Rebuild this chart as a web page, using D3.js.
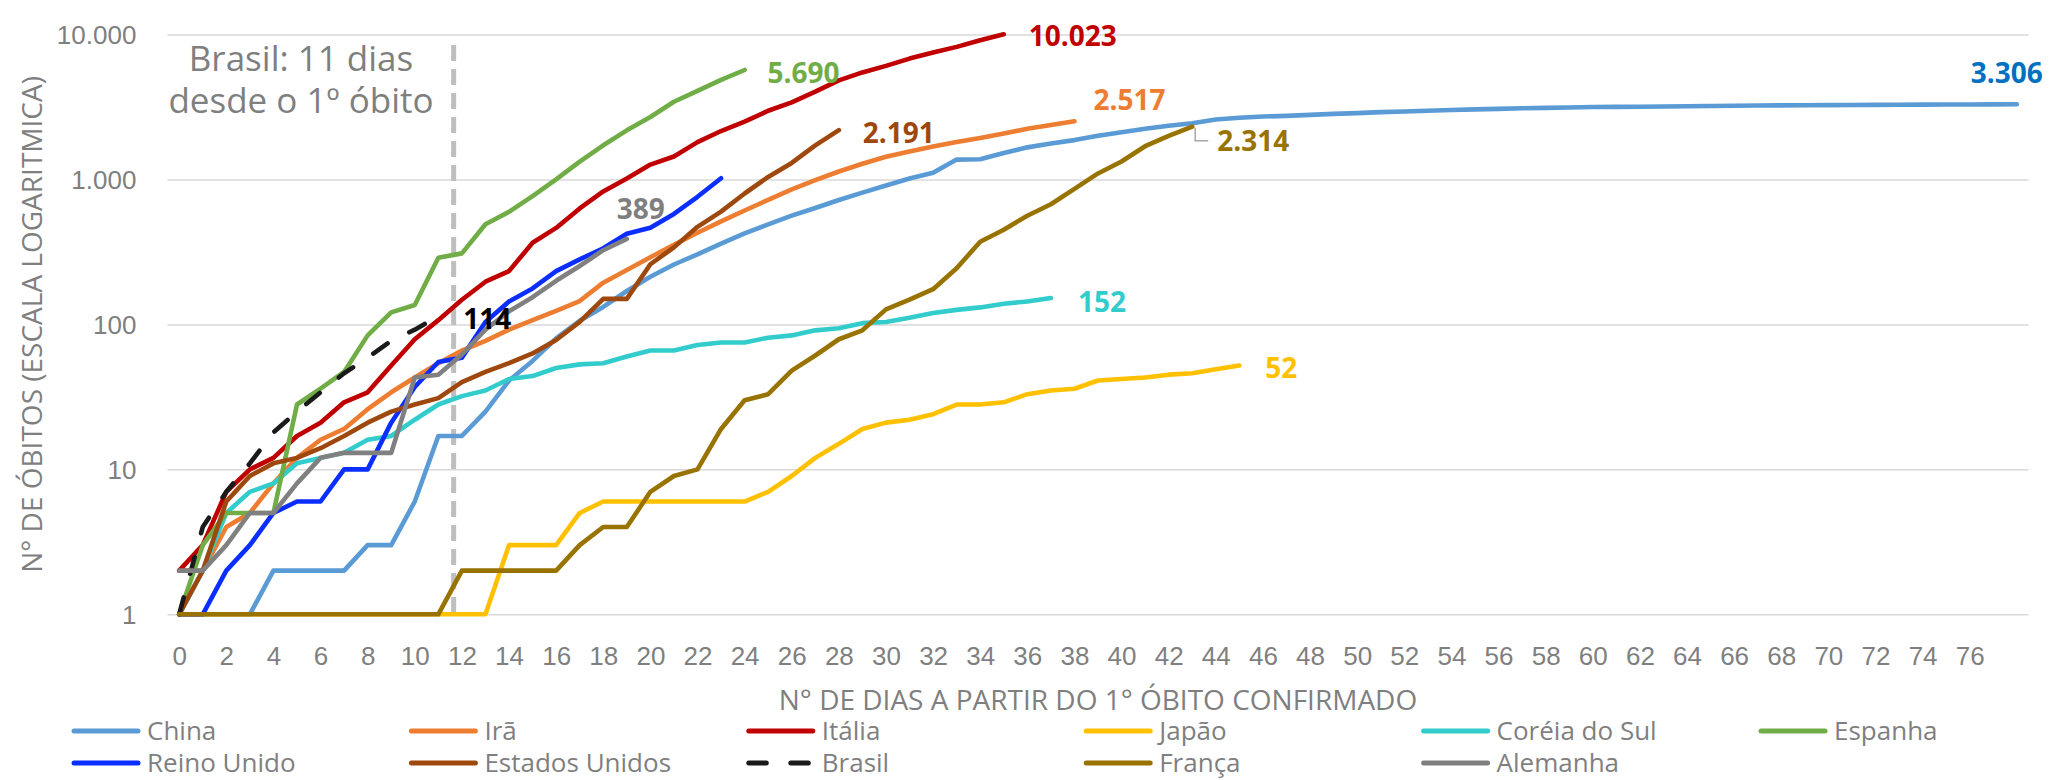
<!DOCTYPE html>
<html lang="pt-BR">
<head>
<meta charset="utf-8">
<title>Óbitos acumulados desde o 1º óbito</title>
<script src="https://cdn.jsdelivr.net/npm/d3@7"></script>
<style>
  html, body { margin: 0; padding: 0; background: #fff; }
  svg { display: block; font-family: "Open Sans", "Noto Sans", sans-serif; }
</style>
</head>
<body>
<svg id="chart" width="2054" height="780"></svg>
<script>
// óbitos acumulados, índice = nº de dias a partir do 1º óbito

const china = [1, 1, 1, 1, 2, 2, 2, 2, 3, 3, 6, 17, 17, 25, 41, 56, 80, 106, 132, 170,
  213, 259, 304, 361, 425, 490, 563, 636, 722, 811, 908, 1016, 1113, 1371, 1380, 1523,
  1665, 1770, 1868, 2004, 2118, 2236, 2345, 2442, 2592, 2663, 2715, 2744, 2788, 2835,
  2870, 2912, 2943, 2981, 3012, 3042, 3070, 3097, 3119, 3136, 3158, 3169, 3176, 3189,
  3199, 3213, 3226, 3237, 3245, 3248, 3255, 3261, 3270, 3277, 3281, 3287, 3292, 3295, 3306];

const ira = [2, 2, 4, 5, 8, 12, 16, 19, 26, 34, 43, 54, 66, 77, 92, 107, 124, 145, 194,
  237, 291, 354, 429, 514, 611, 724, 853, 988, 1135, 1284, 1433, 1556, 1685, 1812, 1934,
  2077, 2234, 2378, 2517];

const italia = [2, 3, 7, 10, 12, 17, 21, 29, 34, 52, 79, 107, 148, 197, 233, 366, 463,
  631, 827, 1016, 1266, 1441, 1809, 2158, 2503, 2978, 3405, 4032, 4825, 5476, 6077, 6820,
  7503, 8215, 9134, 10023];

const japao = [1, 1, 1, 1, 1, 1, 1, 1, 1, 1, 1, 1, 1, 1, 3, 3, 3, 5, 6, 6, 6, 6, 6, 6, 6,
  7, 9, 12, 15, 19, 21, 22, 24, 28, 28, 29, 33, 35, 36, 41, 42, 43, 45, 46, 49, 52];

const coreia = [1, 2, 5, 7, 8, 11, 12, 13, 16, 17, 22, 28, 32, 35, 42, 44, 50, 53, 54, 60,
  66, 66, 72, 75, 75, 81, 84, 91, 94, 102, 104, 111, 120, 126, 131, 139, 144, 152];

const espanha = [1, 3, 5, 5, 5, 28, 36, 47, 84, 121, 136, 288, 309, 491, 598, 767, 1002,
  1326, 1720, 2182, 2696, 3434, 4089, 4858, 5690];

const reinoUnido = [1, 1, 2, 3, 5, 6, 6, 10, 10, 21, 37, 55, 59, 104, 144, 177, 233, 281,
  335, 422, 465, 578, 759, 1019];

const eua = [1, 2, 6, 9, 11, 12, 14, 17, 21, 25, 28, 31, 40, 47, 54, 63, 78, 104, 150, 150,
  260, 340, 471, 600, 800, 1040, 1300, 1720, 2191];

const brasil = [1, 4, 7, 11, 18, 25, 34, 46, 59, 77, 92, 114];

const franca = [1, 1, 1, 1, 1, 1, 1, 1, 1, 1, 1, 1, 2, 2, 2, 2, 2, 3, 4, 4, 7, 9, 10, 19,
  30, 33, 48, 61, 79, 91, 127, 148, 175, 244, 372, 450, 562, 674, 860, 1100, 1331, 1696,
  1995, 2314];

const alemanha = [2, 2, 3, 5, 5, 8, 12, 13, 13, 13, 43, 45, 62, 92, 123, 154, 200, 253, 325, 389];

const SERIES_NAMES = ["China", "Irã", "Itália", "Japão", "Coréia do Sul", "Espanha",
  "Reino Unido", "Estados Unidos", "Brasil", "França", "Alemanha"];
const SERIES_VALUES = [china, ira, italia, japao, coreia, espanha,
  reinoUnido, eua, brasil, franca, alemanha];

const DAY_TICKS = [0, 2, 4, 6, 8, 10, 12, 14, 16, 18, 20, 22, 24, 26, 28, 30, 32, 34, 36,
  38, 40, 42, 44, 46, 48, 50, 52, 54, 56, 58, 60, 62, 64, 66, 68, 70, 72, 74, 76];
const Y_TICKS = [1, 10, 100, 1000, 10000];

// --- estilos ---
const COLORS = {
  "China": "#5B9BD5", "Irã": "#ED7D31", "Itália": "#C00000", "Japão": "#FFC000",
  "Coréia do Sul": "#33CCCC", "Espanha": "#70AD47", "Reino Unido": "#0A2EFF",
  "Estados Unidos": "#9E480E", "Brasil": "#1A1A1A", "França": "#997300", "Alemanha": "#808080"
};
const LABEL_COLORS = Object.assign({}, COLORS, { "China": "#0070C0", "Brasil": "#000000", "Alemanha": "#7F7F7F" });

// deslocamento do rótulo final em relação ao último ponto: [dx, dy, âncora]
const LABEL_OFFSETS = {
  "China": [-10, -31, "middle"],
  "Irã": [19, -21, "start"],
  "Itália": [25, 2, "start"],
  "Japão": [26, 3, "start"],
  "Coréia do Sul": [27, 4, "start"],
  "Espanha": [23, 3, "start"],
  "Reino Unido": null,
  "Estados Unidos": [24, 3, "start"],
  "Brasil": [25, 3, "start"],
  "França": [25, 15, "start"],
  "Alemanha": [-10, -30, "start"]
};

const plot = { left: 167.4, right: 2028.6, top: 34.5, bottom: 614.3 };
const GRAY = "#7F7F7F";
const MARKER_DAY = 11.65;

const fmt = d3.formatLocale({ decimal: ",", thousands: ".", grouping: [3], currency: ["R$", ""] }).format(",d");

const svg = d3.select("#chart");

const x = d3.scaleLinear().domain([-0.5, 78.5]).range([plot.left, plot.right]);
const y = d3.scaleLog().domain([1, 10000]).range([plot.bottom, plot.top]);

// eixo y + grade
const yAxis = svg.append("g")
  .attr("transform", `translate(${plot.left},0)`)
  .call(d3.axisLeft(y)
    .tickValues(Y_TICKS)
    .tickFormat(fmt)
    .tickSize(-(plot.right - plot.left))
    .tickPadding(31));
yAxis.select(".domain").remove();
yAxis.selectAll(".tick line").attr("stroke", "#D9D9D9").attr("stroke-width", 1.5);
yAxis.selectAll(".tick text")
  .attr("fill", GRAY).style("font-size", "26px").attr("dy", "0.34em");

// eixo x
const xAxis = svg.append("g")
  .attr("transform", `translate(0,${plot.bottom})`)
  .call(d3.axisBottom(x).tickValues(DAY_TICKS).tickSize(0).tickPadding(32));
xAxis.select(".domain").remove();
xAxis.selectAll(".tick text").attr("fill", GRAY).style("font-size", "26px");

// títulos dos eixos
svg.append("text")
  .attr("x", (plot.left + plot.right) / 2).attr("y", 710)
  .attr("text-anchor", "middle").attr("fill", GRAY).style("font-size", "28px")
  .text("N° DE DIAS A PARTIR DO 1° ÓBITO CONFIRMADO");

svg.append("text")
  .attr("transform", `translate(42,${(plot.top + plot.bottom) / 2}) rotate(-90)`)
  .attr("text-anchor", "middle").attr("fill", GRAY).style("font-size", "28px")
  .text("N° DE ÓBITOS (ESCALA LOGARITMICA)");

// marcador do Brasil
svg.append("line")
  .attr("x1", x(MARKER_DAY)).attr("x2", x(MARKER_DAY))
  .attr("y1", 45).attr("y2", 618)
  .attr("stroke", "#BFBFBF").attr("stroke-width", 5)
  .attr("stroke-dasharray", "16,8");

const note = svg.append("text")
  .attr("text-anchor", "middle").attr("fill", GRAY).style("font-size", "35px");
note.append("tspan").attr("x", 301).attr("y", 71).text("Brasil: 11 dias");
note.append("tspan").attr("x", 301).attr("y", 113).text("desde o 1º óbito");

// linhas
const line = d3.line().x((d, i) => x(i)).y(d => y(d));

const seriesG = svg.append("g");
SERIES_NAMES.forEach((name, k) => {
  seriesG.append("path")
    .datum(SERIES_VALUES[k])
    .attr("d", line)
    .attr("fill", "none")
    .attr("stroke", COLORS[name])
    .attr("stroke-width", 4.6)
    .attr("stroke-linejoin", "round")
    .attr("stroke-linecap", "round")
    .attr("stroke-dasharray", name === "Brasil" ? "17.5,24.5" : null);
});

// rótulos finais
const labelsG = svg.append("g").style("font-size", "28px").style("font-weight", "700");
SERIES_NAMES.forEach((name, k) => {
  const off = LABEL_OFFSETS[name];
  if (!off) return;
  const vals = SERIES_VALUES[k];
  const last = vals.length - 1;
  const px = x(last), py = y(vals[last]);
  labelsG.append("text")
    .attr("x", px + off[0]).attr("y", py + off[1])
    .attr("dy", "0.35em")
    .attr("text-anchor", off[2])
    .attr("fill", LABEL_COLORS[name])
    .text(fmt(vals[last]));
  if (name === "França") {
    svg.append("path")
      .attr("d", `M${px + 3},${py + 1}V${py + 14}H${px + 16}`)
      .attr("fill", "none").attr("stroke", "#A6A6A6").attr("stroke-width", 1.5);
  }
});

// legenda
const legend = svg.append("g").style("font-size", "26px");
SERIES_NAMES.forEach((name, k) => {
  const col = k % 6, row = Math.floor(k / 6);
  const lx = 71 + col * 337.4, ly = 731 + row * 32;
  const g = legend.append("g").attr("transform", `translate(${lx},${ly})`);
  g.append("line")
    .attr("x1", 3).attr("x2", 67)
    .attr("stroke", COLORS[name]).attr("stroke-width", 5)
    .attr("stroke-linecap", "round")
    .attr("stroke-dasharray", name === "Brasil" ? "17.5,24.5" : null);
  g.append("text")
    .attr("x", 76).attr("y", 9)
    .attr("fill", GRAY)
    .text(name);
});
</script>
</body>
</html>
